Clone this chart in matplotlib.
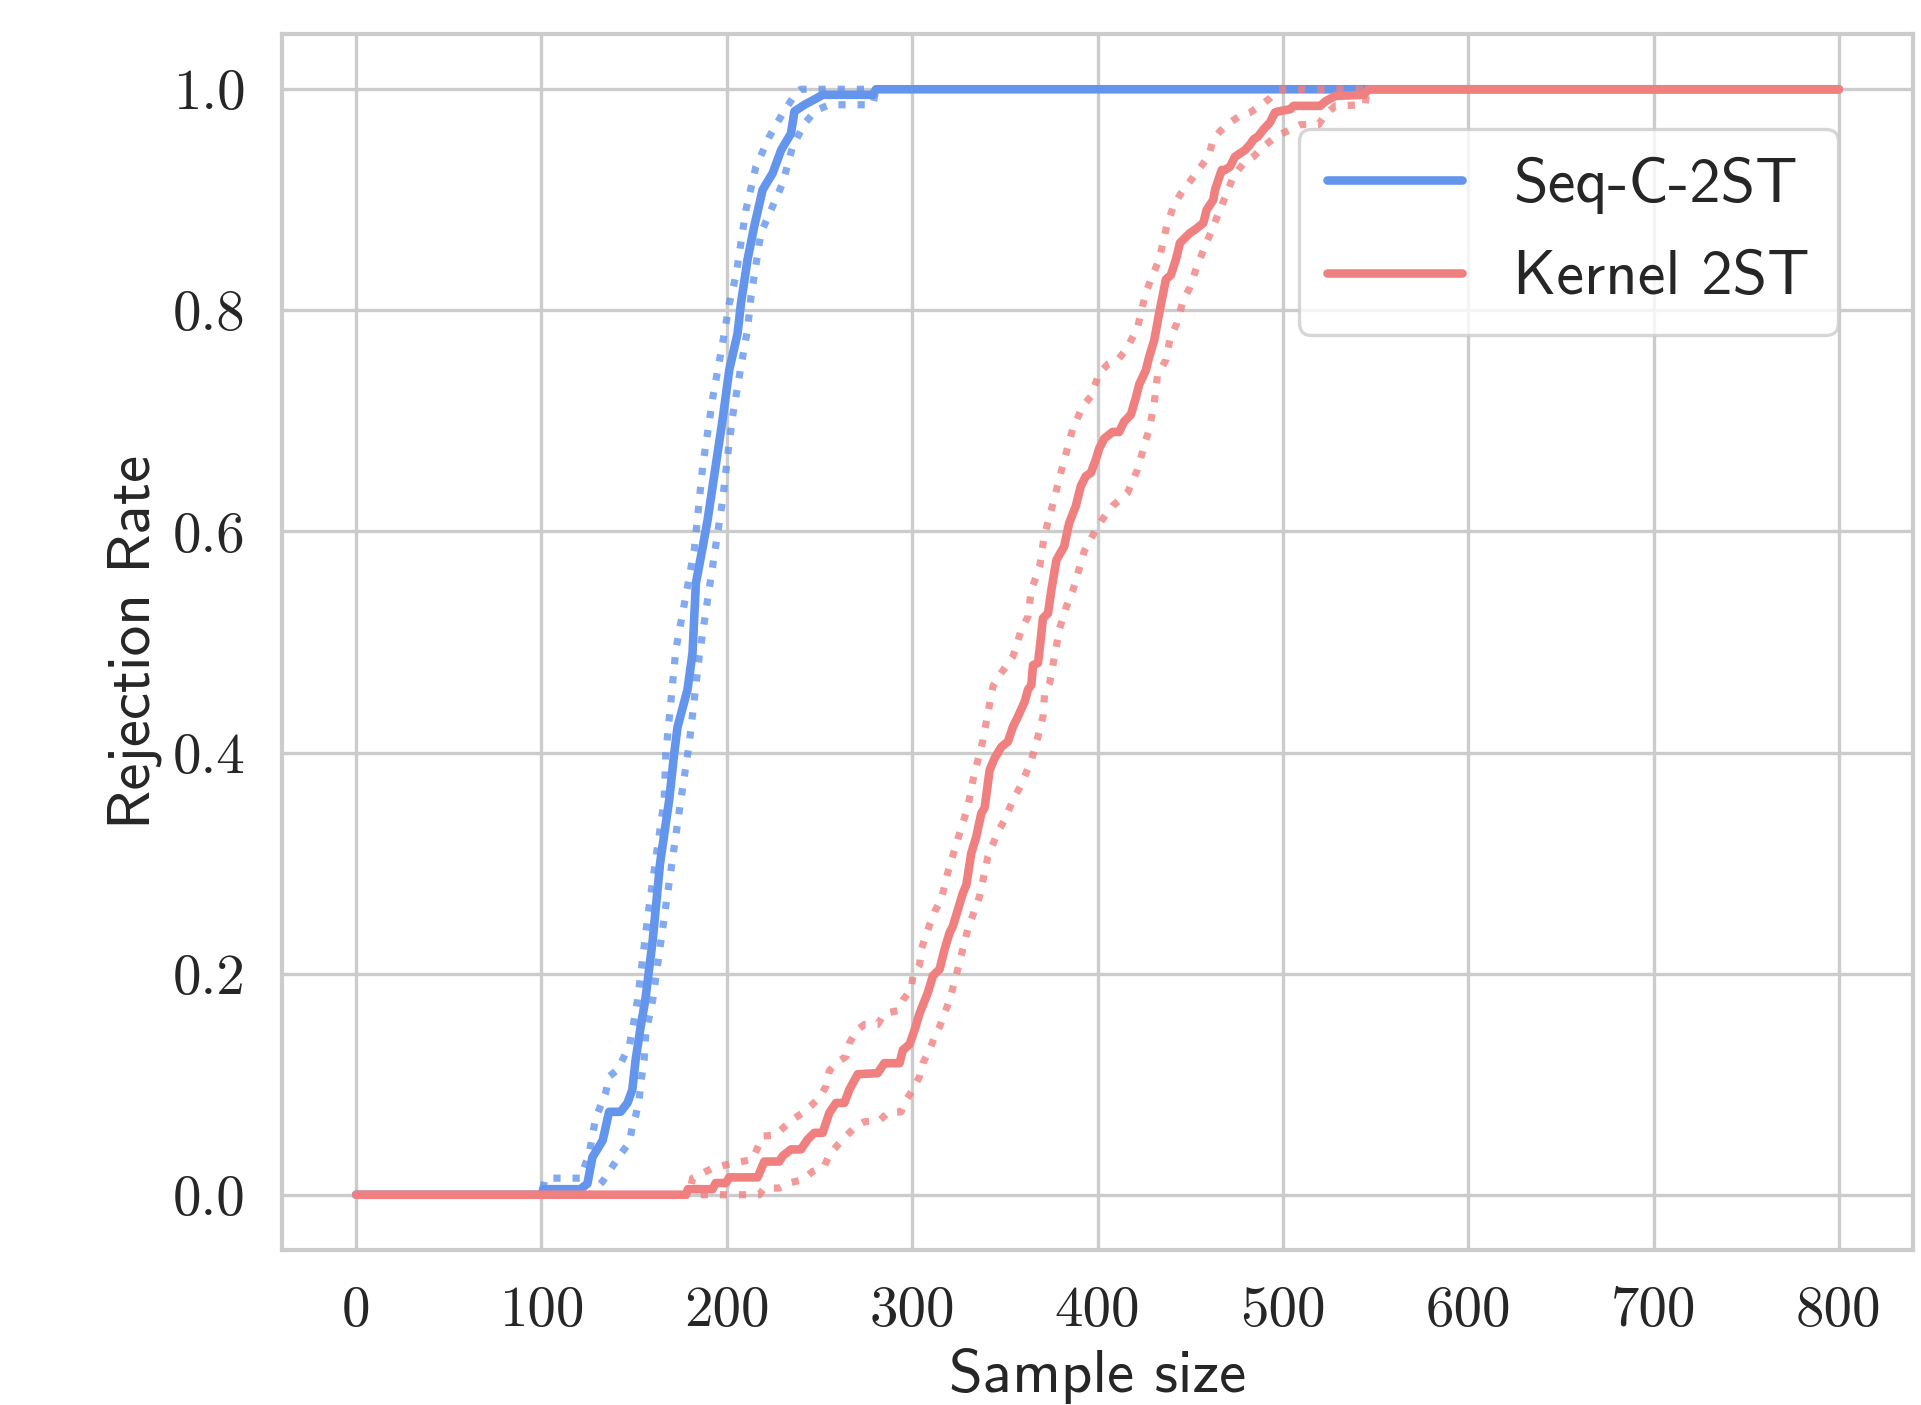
import matplotlib
matplotlib.use('Agg')
import matplotlib.pyplot as plt

# values (sample size, rejection rate)
seq_x = [0, 100, 101, 121, 124.8, 127.5, 133, 136.5, 142.7, 146.4, 149, 150.8, 153.5, 156, 160, 164,
         168.9, 171.6, 173.4, 178.8, 181.5, 183.3, 187, 189.6, 197.7, 201.3, 205.8, 207.6, 211.2, 214.8,
         219.3, 224.7, 229.3, 234.6, 236.5, 241.9, 246.4, 251.8, 278.8, 280.5, 800]
seq_y = [0, 0, 0.005, 0.005, 0.01, 0.034, 0.049, 0.075, 0.075, 0.083, 0.095, 0.122, 0.152, 0.176, 0.23, 0.30,
         0.357, 0.399, 0.423, 0.457, 0.490, 0.553, 0.586, 0.610, 0.701, 0.746, 0.779, 0.806, 0.846, 0.876,
         0.909, 0.924, 0.945, 0.960, 0.980, 0.986, 0.990, 0.995, 0.995, 1.0, 1.0]

seq_hi_x = [0, 100, 102, 121, 125.7, 129.2, 134.6, 136.5, 141, 147.3, 150, 151.8, 158, 166.2, 167.1, 172.5,
            182.4, 187, 192.3, 197.7, 201.3, 204.9, 210.3, 215.7, 222.9, 230.1, 237.3, 240, 800]
seq_hi_y = [0, 0, 0.015, 0.015, 0.037, 0.069, 0.092, 0.107, 0.113, 0.134, 0.158, 0.176, 0.26, 0.357, 0.399, 0.493,
            0.583, 0.659, 0.72, 0.770, 0.806, 0.831, 0.891, 0.930, 0.957, 0.978, 0.9966, 1.0, 1.0]

seq_lo_x = [0, 126, 133, 136.5, 142.8, 147.3, 149, 150.9, 152.7, 153.6, 155.4, 156.3, 160, 167, 175.2, 179.7,
            185.1, 189.6, 195, 197.7, 200.4, 203.1, 207.6, 211.2, 213, 218.4, 224.7, 230.1, 235.5, 241.9,
            248.1, 255.4, 278.8, 280.5, 800]
seq_lo_y = [0, 0, 0.012, 0.021, 0.037, 0.047, 0.061, 0.072, 0.086, 0.101, 0.122, 0.146, 0.176, 0.26, 0.357, 0.408,
            0.487, 0.538, 0.598, 0.628, 0.668, 0.704, 0.749, 0.783, 0.812, 0.870, 0.894, 0.915, 0.948, 0.969,
            0.981, 0.986, 0.986, 1.0, 1.0]

ker_x = [0, 178, 179, 192.3, 194, 199.5, 201.3, 216.6, 220.2, 228.3, 230.1, 234.6, 240, 243.6, 247.2, 251.7,
         255.3, 258.9, 263.4, 266.1, 270.6, 281.4, 285, 293.2, 295, 298.6, 301.3, 304, 308.5, 311.2, 314.8,
         317.5, 320.2, 322, 327.4, 329.2, 331.9, 334.6, 337.3, 339.1, 341.8, 344.5, 348.1, 351.7, 354.4,
         357.1, 360.7, 362.5, 364.3, 365.2, 367.9, 368.8, 370.6, 373.3, 375.1, 377.8, 382, 384.7, 388.3,
         391, 393.7, 396.4, 399.1, 400.9, 403.6, 408.1, 411.7, 414.4, 418, 420.7, 422.5, 426.1, 427.9,
         430.6, 433.3, 435.1, 436.9, 439.6, 442.3, 444.5, 449.9, 452.6, 457.1, 458.9, 462.5, 463.4, 467,
         468.8, 471.5, 474.2, 476.9, 479.6, 482.3, 484.1, 486.8, 489.5, 493.1, 495.7, 497.7, 504, 505.8,
         520.2, 522.9, 528.3, 543.6, 546.3, 800]
ker_y = [0, 0, 0.005, 0.005, 0.0106, 0.0106, 0.0157, 0.0157, 0.030, 0.030, 0.035, 0.041, 0.041, 0.050, 0.056, 0.056,
         0.074, 0.083, 0.083, 0.095, 0.109, 0.110, 0.119, 0.119, 0.131, 0.136, 0.149, 0.164, 0.183, 0.198, 0.204,
         0.222, 0.237, 0.243, 0.273, 0.280, 0.309, 0.324, 0.345, 0.350, 0.384, 0.395, 0.405, 0.410, 0.4235,
         0.4326, 0.446, 0.457, 0.461, 0.479, 0.481, 0.494, 0.5216, 0.526, 0.547, 0.574, 0.5864, 0.6075, 0.623,
         0.641, 0.650, 0.653, 0.665, 0.675, 0.684, 0.690, 0.690, 0.6995, 0.7056, 0.721, 0.733, 0.746, 0.758,
         0.773, 0.7976, 0.8127, 0.828, 0.832, 0.846, 0.861, 0.870, 0.873, 0.879, 0.891, 0.900, 0.909, 0.927,
         0.927, 0.930, 0.939, 0.942, 0.945, 0.950, 0.9545, 0.9576, 0.9636, 0.970, 0.979, 0.980, 0.982, 0.985,
         0.985, 0.989, 0.994, 0.995, 1.0, 1.0]

ker_hi_x = [0, 180, 181.5, 192.3, 199.5, 213.9, 219.3, 226.5, 230.1, 235.5, 240.9, 245.4, 249.9, 253.5, 255.3,
            258.9, 264.3, 266.1, 269.7, 274.2, 281.4, 285, 292.3, 295, 299.5, 300.4, 304, 304.9, 309.4, 312.1,
            315.7, 319.3, 325.6, 330.1, 332.8, 336.4, 338.2, 340.9, 343.6, 347.2, 354.4, 358.9, 362.5, 364.3,
            368.8, 371.2, 376.6, 380.2, 386.5, 391.9, 396.4, 400.9, 405.4, 410.8, 415.3, 421.6, 423.4, 426.1,
            428.8, 433.3, 437.3, 440.9, 444.5, 449.9, 454.4, 459.8, 462.5, 466.1, 471.5, 476.9, 482.3, 487.7,
            493.1, 497.7, 800]
ker_hi_y = [0, 0, 0.015, 0.024, 0.027, 0.032, 0.053, 0.054, 0.060, 0.068, 0.074, 0.0805, 0.0875, 0.098, 0.112,
            0.119, 0.125, 0.137, 0.148, 0.154, 0.154, 0.164, 0.1665, 0.176, 0.186, 0.198, 0.208, 0.222, 0.244, 0.256,
            0.267, 0.292, 0.327, 0.351, 0.375, 0.3994, 0.411, 0.436, 0.460, 0.470, 0.487, 0.511, 0.523, 0.547,
            0.568, 0.5955, 0.629, 0.653, 0.692, 0.713, 0.722, 0.743, 0.751, 0.755, 0.764, 0.784, 0.7976, 0.816,
            0.828, 0.846, 0.876, 0.894, 0.9045, 0.9167, 0.927, 0.939, 0.9545, 0.962, 0.970, 0.976, 0.979, 0.985,
            0.992, 1.0, 1.0]

ker_lo_x = [0, 217.5, 220.2, 228.3, 233.7, 240.9, 246.3, 252.6, 255.3, 259.8, 264.3, 269.7, 274.2, 282.3, 286.8,
            294, 296.8, 300.4, 304, 305.8, 309.4, 312.1, 314.8, 317.5, 320.2, 324, 330, 336.4, 340.9, 346.3,
            349.9, 354.4, 358.9, 364.3, 367.9, 370.6, 371.5, 374.2, 376.9, 379.6, 383.2, 386.8, 392.8, 399.1,
            402.7, 408.1, 416.2, 421.6, 426.1, 427.9, 430.6, 432.4, 436.9, 439, 442.7, 446.3, 449.9, 453.5,
            458, 462.5, 466.1, 469.7, 473.3, 478.7, 484.1, 489.5, 496.8, 502.2, 509.4, 519.3, 522.9, 528.3,
            544.5, 545.4, 800]
ker_lo_y = [0, 0, 0.006, 0.006, 0.0106, 0.0136, 0.021, 0.0256, 0.036, 0.045, 0.053, 0.062, 0.066, 0.067, 0.074,
            0.075, 0.086, 0.095, 0.107, 0.119, 0.131, 0.143, 0.152, 0.164, 0.176, 0.2, 0.24, 0.270, 0.306, 0.3285,
            0.339, 0.357, 0.371, 0.393, 0.4145, 0.4326, 0.454, 0.463, 0.488, 0.5125, 0.532, 0.547, 0.582, 0.6015,
            0.611, 0.623, 0.635, 0.656, 0.683, 0.692, 0.716, 0.742, 0.755, 0.773, 0.788, 0.809, 0.821, 0.839,
            0.858, 0.876, 0.891, 0.906, 0.921, 0.933, 0.939, 0.948, 0.958, 0.962, 0.968, 0.968, 0.977, 0.985,
            0.986, 1.0, 1.0]

x_ticks = [0, 100, 200, 300, 400, 500, 600, 700, 800]
y_ticks = [0.0, 0.2, 0.4, 0.6, 0.8, 1.0]

BLUE = '#6495ED'
RED = '#F08080'
TEXT = '#262626'
SANS = ['cmss10', 'DejaVu Sans']

plt.rcParams['lines.solid_capstyle'] = 'round'

fig = plt.figure(figsize=(19.21, 14.05), dpi=100)
ax = fig.add_axes([282 / 1921, 155 / 1405, 1631 / 1921, 1216 / 1405])

ax.plot(seq_x, seq_y, color=BLUE, lw=6.2, label='Seq-C-2ST')
ax.plot(seq_hi_x, seq_hi_y, color=BLUE, lw=5.2, ls=':', alpha=0.8)
ax.plot(seq_lo_x, seq_lo_y, color=BLUE, lw=5.2, ls=':', alpha=0.8)
ax.plot(ker_x, ker_y, color=RED, lw=6.2, label='Kernel 2ST')
ax.plot(ker_hi_x, ker_hi_y, color=RED, lw=5.2, ls=':', alpha=0.8)
ax.plot(ker_lo_x, ker_lo_y, color=RED, lw=5.2, ls=':', alpha=0.8)

ax.set_xlim(-40, 840)
ax.set_ylim(-0.05, 1.05)
ax.set_xticks(x_ticks)
ax.set_xticklabels([str(t) for t in x_ticks])
ax.set_yticks(y_ticks)
ax.set_yticklabels(['%.1f' % t for t in y_ticks])
ax.tick_params(length=0, pad=26, labelsize=41, labelcolor=TEXT, labelfontfamily='cmr10')

ax.grid(True, color='0.8', lw=2.4)
ax.set_axisbelow(True)
for sp in ax.spines.values():
    sp.set_color('0.8')
    sp.set_linewidth(3)

ax.set_xlabel('Sample size', fontsize=44, family=SANS, color=TEXT, labelpad=8)
ax.set_ylabel('Rejection Rate', fontsize=44, family=SANS, color=TEXT, labelpad=8)

leg = ax.legend(loc='upper right', bbox_to_anchor=(0.954, 0.922), borderaxespad=0,
                prop={'family': SANS, 'size': 45}, handlelength=2.16, handletextpad=0.82,
                labelspacing=0.58, borderpad=0.45, framealpha=0.8, edgecolor='0.8')
leg.get_frame().set_linewidth(2.4)
for t in leg.get_texts():
    t.set_color(TEXT)

fig.savefig('out.png', dpi=100)
